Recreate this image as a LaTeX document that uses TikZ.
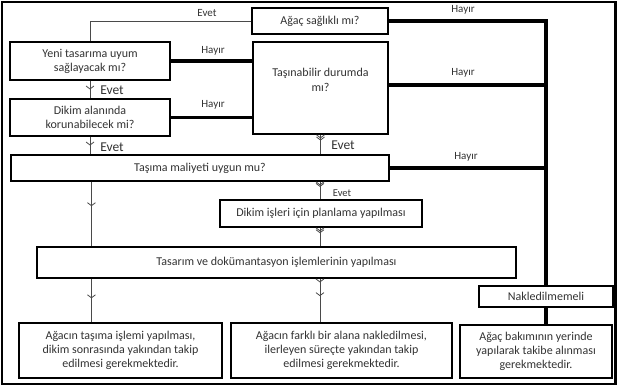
\documentclass[tikz,border=0pt]{standalone}
\usepackage{fontspec}
\setmainfont{Carlito}
\usetikzlibrary{arrows.meta,decorations.markings}
\definecolor{txtc}{HTML}{333333}
\definecolor{linec}{HTML}{4A4A4A}
\tikzset{
  box/.style={draw=black,line width=1.1pt,fill=white,inner sep=0pt,align=center,
    text=txtc,font=\fontsize{12}{14}\selectfont},
  txt/.style={inner sep=0pt,align=center,text=txtc,font=\fontsize{12}{15}\selectfont},
  thk/.style={line width=3.6pt,black},
  thn/.style={line width=0.8pt,linec},
  lbl/.style={inner sep=0pt,text=txtc,font=\fontsize{11}{12}\selectfont},
  lblbig/.style={inner sep=0pt,text=txtc,font=\fontsize{13.5}{14}\selectfont},
  lblmid/.style={inner sep=0pt,text=txtc,font=\fontsize{11}{12}\selectfont},
  lblsm/.style={inner sep=0pt,text=txtc,font=\fontsize{10.5}{12}\selectfont},
  chev/.style={postaction={decorate},decoration={markings,
    mark=at position #1 with {\arrow[linec,line width=0.8pt]{Straight Barb[length=3pt,width=8pt]}}}},
  dchev/.style={postaction={decorate},decoration={markings,
    mark=at position #1 with {\arrow[linec,line width=0.8pt]{Straight Barb[length=3pt,width=8pt]}},
    mark=at position #1+3.5pt with {\arrow[linec,line width=0.8pt]{Straight Barb[length=3pt,width=8pt]}}}},
}
\begin{document}
\begin{tikzpicture}[x=1pt,y=-1pt]
\useasboundingbox (0,0) rectangle (617,387);
\fill[white] (0,0) rectangle (617,387);
\draw[line width=2.4pt,black] (2.2,2.2) rectangle (615.5,384);

% boxes
\node[box,minimum width=136pt,minimum height=26pt] (sag) at (320,21) {Ağaç sağlıklı mı?};
\node[box,minimum width=160pt,minimum height=38pt] (yeni) at (90,61) {Yeni tasarıma uyum\\sağlayacak mı?};
\node[box,minimum width=135pt,minimum height=92pt] (tas) at (320.5,88) {};
\node[txt] (tastxt) at (320.5,80) {Taşınabilir durumda\\mı?};
\node[box,minimum width=160pt,minimum height=37pt] (dikal) at (90,117.5) {Dikim alanında\\korunabilecek mi?};
\node[box,minimum width=378pt,minimum height=26pt] (mal) at (200,168) {Taşıma maliyeti uygun mu?};
\node[box,minimum width=202pt,minimum height=27pt] (plan) at (321,213.5) {Dikim işleri için planlama yapılması};
\node[box,minimum width=479pt,minimum height=31pt] (tasarim) at (276.5,262.5) {Tasarım ve dokümantasyon işlemlerinin yapılması};
\node[box,minimum width=134pt,minimum height=21pt] (nak) at (546,296.5) {Nakledilmemeli};
\node[box,minimum width=203pt,minimum height=55pt] (b1) at (120.5,350.5) {Ağacın taşıma işlemi yapılması,\\dikim sonrasında yakından takip\\edilmesi gerekmektedir.};
\node[box,minimum width=221pt,minimum height=55pt] (b2) at (341.5,350.5) {Ağacın farklı bir alana nakledilmesi,\\ilerleyen süreçte yakından takip\\edilmesi gerekmektedir.};
\node[box,minimum width=152pt,minimum height=53pt] (b3) at (536,351.5) {Ağaç bakımının yerinde\\yapılarak takibe alınması\\gerekmektedir.};

% thick "Hayır" connectors
\draw[thk] (sag.east) -| (nak.north);
\draw[thk] ([yshift=3pt]tas.east) -- ([yshift=3pt]tas.east -| nak.north);
\draw[thk] (mal.east) -- (mal.east -| nak.north);
\draw[thk] (nak.south) -- (nak.south |- b3.north);
\draw[thk] (yeni.east) -- (yeni.east -| tas.west);
\draw[thk] (dikal.east) -- (dikal.east -| tas.west);

\node[lbl] (h1) at (463,10) {Hayır};
\node[lbl] (h2) at (463,73) {Hayır};
\node[lbl] (h3) at (466,157) {Hayır};
\node[lbl] (h4) at (213,51) {Hayır};
\node[lbl] (h5) at (213,105) {Hayır};

% thin "Evet" connectors
\draw[thn] (sag.west) -| (yeni.north);
\node[lblmid] (e1) at (207,13) {Evet};
\draw[thn,chev=0.5] (yeni.south) -- (dikal.north);
\node[lblbig] (e2) at (112,90) {Evet};
\draw[thn,chev=0.5] (dikal.south) -- (dikal.south |- mal.north);
\node[lblbig] (e3) at (112,147) {Evet};
\draw[thn,dchev=0.3] (tas.south) -- (tas.south |- mal.north);
\node[lblbig] (e4) at (343,145) {Evet};
\coordinate (p1) at ([xshift=-1pt]plan.north);
\draw[thn,dchev=0.3] (p1 |- mal.south) -- (p1);
\node[lblsm] (e5) at (342,193) {Evet};
\coordinate (p2) at ([xshift=-1pt]plan.south);
\draw[thn,dchev=0.3] (p2) -- (p2 |- tasarim.north);
\coordinate (m1) at ([xshift=81pt]mal.south west);
\draw[thn,chev=0.38] (m1) -- (m1 |- tasarim.north);
\coordinate (t1) at ([xshift=55pt]tasarim.south west);
\draw[thn,chev=0.45] (t1) -- (t1 |- b1.north);
\coordinate (t2) at ([xshift=283.5pt]tasarim.south west);
\draw[thn,dchev=0.4] (t2) -- (t2 |- b2.north);
\end{tikzpicture}
\end{document}
